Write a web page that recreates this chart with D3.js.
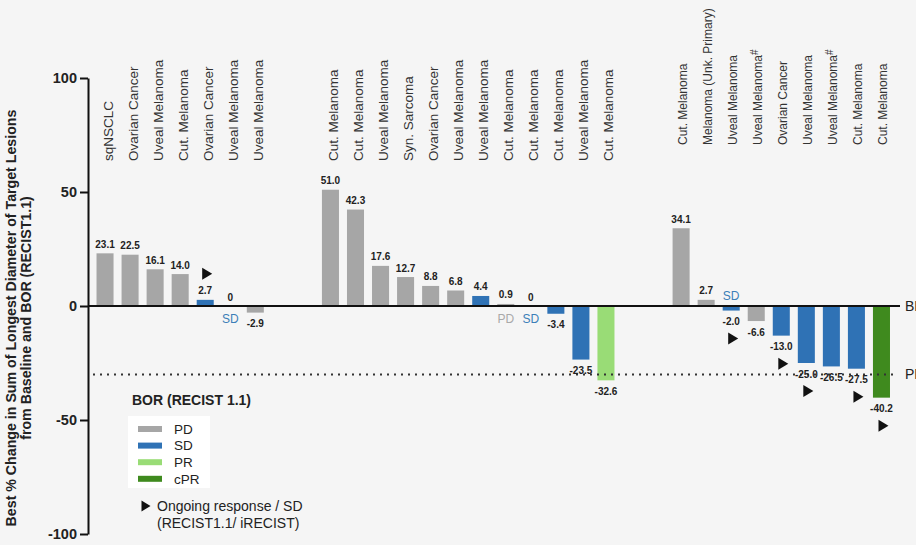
<!DOCTYPE html>
<html>
<head>
<meta charset="utf-8">
<script src="https://cdn.jsdelivr.net/npm/d3@7"></script>
<style>
  html, body { margin: 0; padding: 0; background: #f5f5f5; }
  svg { display: block; font-family: "Liberation Sans", Arial, sans-serif; }
</style>
</head>
<body>
<svg id="chart" width="916" height="545"></svg>
<script>
// Tumour type of each patient, in plotted order (three cohorts)
const tumorTypes = [
  "sqNSCLC", "Ovarian Cancer", "Uveal Melanoma", "Cut. Melanoma", "Ovarian Cancer", "Uveal Melanoma", "Uveal Melanoma",
  "Cut. Melanoma", "Cut. Melanoma", "Uveal Melanoma", "Syn. Sarcoma", "Ovarian Cancer", "Uveal Melanoma",
  "Uveal Melanoma", "Cut. Melanoma", "Cut. Melanoma", "Cut. Melanoma", "Uveal Melanoma", "Cut. Melanoma",
  "Cut. Melanoma", "Melanoma (Unk. Primary)", "Uveal Melanoma", "Uveal Melanoma", "Ovarian Cancer",
  "Uveal Melanoma", "Uveal Melanoma", "Cut. Melanoma", "Cut. Melanoma"
];
// Cohort each patient belongs to
const cohorts = [1,1,1,1,1,1,1, 2,2,2,2,2,2,2,2,2,2,2,2, 3,3,3,3,3,3,3,3,3];
// Best % change in sum of longest diameters of target lesions
const bestChange = [
  23.1, 22.5, 16.1, 14.0, 2.7, 0, -2.9,
  51.0, 42.3, 17.6, 12.7, 8.8, 6.8, 4.4, 0.9, 0, -3.4, -23.5, -32.6,
  34.1, 2.7, -2.0, -6.6, -13.0, -25.0, -26.5, -27.5, -40.2
];
// Best overall response (RECIST 1.1)
const bor = [
  "PD", "PD", "PD", "PD", "SD", "SD", "PD",
  "PD", "PD", "PD", "PD", "PD", "PD", "SD", "PD", "SD", "SD", "SD", "PR",
  "PD", "PD", "SD", "PD", "SD", "SD", "SD", "SD", "cPR"
];
// Patients flagged with "#"
const hashFlagged = [22, 25];
// Patients with ongoing response / SD (RECIST1.1 / iRECIST)
const ongoing = [4, 21, 23, 24, 26, 27];
// Patients whose response is spelled out next to a near-zero bar
const tagged = [5, 14, 15, 21];
const tagAbove = [21];

const borCategories = ["PD", "SD", "PR", "cPR"];
const borColors = ["#a6a6a6", "#2f72b5", "#99dc76", "#3f8a1e"];
const tagColors = { PD: "#a9a9a9", SD: "#3b7fb8" };

const yTicks = [-100, -50, 0, 50, 100];
const prThreshold = -30;

const svg = d3.select("#chart");
const W = 916, H = 545;
svg.append("rect").attr("width", W).attr("height", H).attr("fill", "#f5f5f5");

// Plain hyphen for negative numbers
const fmtValue = d => d === 0 ? "0" : d.toFixed(1);

// Two empty slots separate each cohort
const slotOf = i => i + 2 * (cohorts[i] - 1);
const nSlots = slotOf(bestChange.length - 1) + 1;

const x = d3.scaleBand()
  .domain(d3.range(nSlots))
  .range([88.5, 898])
  .paddingInner(0.32)
  .paddingOuter(0.32);

const y = d3.scaleLinear().domain([-100, 100]).range([534, 78]);
const color = d3.scaleOrdinal().domain(borCategories).range(borColors);

const cx = i => x(slotOf(i)) + x.bandwidth() / 2;

// Bars
svg.append("g").selectAll("rect")
  .data(bestChange)
  .join("rect")
  .attr("x", (d, i) => x(slotOf(i)))
  .attr("width", x.bandwidth())
  .attr("y", d => y(Math.max(0, d)))
  .attr("height", d => Math.abs(y(d) - y(0)))
  .attr("fill", (d, i) => color(bor[i]));

// Baseline and PR threshold
svg.append("line")
  .attr("x1", 88).attr("x2", 900)
  .attr("y1", y(0)).attr("y2", y(0))
  .attr("stroke", "#111").attr("stroke-width", 2);
svg.append("line")
  .attr("x1", 93).attr("x2", 898)
  .attr("y1", y(prThreshold)).attr("y2", y(prThreshold))
  .attr("stroke", "#333").attr("stroke-width", 2)
  .attr("stroke-dasharray", "2,5");
svg.append("text").attr("x", 905).attr("y", y(0)).attr("dy", "0.36em")
  .attr("font-size", 14).attr("fill", "#222").text("BL");
svg.append("text").attr("x", 905).attr("y", y(prThreshold)).attr("dy", "0.36em")
  .attr("font-size", 14).attr("fill", "#222").text("PR");

// Y axis
const yAxis = d3.axisLeft(y).tickValues(yTicks).tickFormat(d => String(d))
  .tickSize(8).tickSizeOuter(0).tickPadding(3);
const gy = svg.append("g").attr("transform", "translate(88,0)").call(yAxis);
gy.select(".domain").attr("stroke", "#111").attr("stroke-width", 2);
gy.selectAll(".tick line").attr("stroke", "#111").attr("stroke-width", 2);
gy.selectAll(".tick text")
  .attr("font-size", 14.5).attr("font-weight", "bold").attr("fill", "#222")
  .attr("font-family", "'Liberation Sans', Arial, sans-serif");

// Y axis title
const titleG = svg.append("g").attr("font-weight", "bold").attr("font-size", 14.2).attr("fill", "#222");
titleG.append("text")
  .attr("transform", "translate(16,318) rotate(-90)")
  .attr("text-anchor", "middle")
  .text("Best % Change in Sum of Longest Diameter of Target Lesions");
titleG.append("text")
  .attr("transform", "translate(31,318) rotate(-90)")
  .attr("text-anchor", "middle")
  .text("from Baseline and BOR (RECIST1.1)");

// Tumour-type labels above the bars
const catLabels = svg.append("g").attr("fill", "#333");
tumorTypes.forEach((name, i) => {
  const third = cohorts[i] === 3;
  const t = catLabels.append("text")
    .attr("transform", `translate(${cx(i) + (third ? 6 : 7.5)},${third ? 145 : 161}) rotate(-90)`)
    .attr("font-size", third ? 12 : 13.5)
    .text(name);
  if (hashFlagged.includes(i)) {
    t.append("tspan").attr("dy", "-0.45em").attr("font-size", 10).text("#");
  }
});

// Value labels
svg.append("g").selectAll("text")
  .data(bestChange)
  .join("text")
  .attr("x", (d, i) => cx(i))
  .attr("y", d => d >= 0 ? y(d) - 5.5 : y(d) + 14.5)
  .attr("text-anchor", "middle")
  .attr("font-size", 10).attr("font-weight", "bold").attr("fill", "#222")
  .text(fmtValue);

// Response tags beside near-zero bars
svg.append("g").selectAll("text")
  .data(tagged)
  .join("text")
  .attr("x", i => cx(i))
  .attr("y", i => tagAbove.includes(i) ? y(0) - 6 : y(0) + 17)
  .attr("text-anchor", "middle")
  .attr("font-size", 12)
  .attr("fill", i => tagColors[bor[i]])
  .text(i => bor[i]);

// Ongoing response markers
const tri = "M-5,-6L5,0L-5,6Z";
svg.append("g").selectAll("path")
  .data(ongoing)
  .join("path")
  .attr("d", tri)
  .attr("fill", "#111")
  .attr("transform", i => {
    const v = bestChange[i];
    const ty = v >= 0 ? y(v) - 26 : y(v) + 28;
    return `translate(${cx(i) + 2},${ty})`;
  });

// Legend
const lg = svg.append("g");
lg.append("text").attr("x", 132).attr("y", 405)
  .attr("font-size", 14).attr("font-weight", "bold").attr("fill", "#222")
  .text("BOR (RECIST 1.1)");
lg.append("rect").attr("x", 128).attr("y", 416).attr("width", 82).attr("height", 72).attr("fill", "#ffffff");
borCategories.forEach((c, k) => {
  const yy = 429 + k * 16.6;
  lg.append("rect").attr("x", 138).attr("y", yy - 3).attr("width", 24).attr("height", 6).attr("fill", color(c));
  lg.append("text").attr("x", 174).attr("y", yy).attr("dy", "0.36em")
    .attr("font-size", 13.5).attr("fill", "#222").text(c);
});
lg.append("path").attr("d", "M-4.5,-5.5L4.5,0L-4.5,5.5Z").attr("fill", "#111")
  .attr("transform", "translate(146,506)");
lg.append("text").attr("x", 157).attr("y", 506).attr("dy", "0.36em")
  .attr("font-size", 14).attr("fill", "#222").text("Ongoing response / SD");
lg.append("text").attr("x", 157).attr("y", 523).attr("dy", "0.36em")
  .attr("font-size", 14).attr("fill", "#222").text("(RECIST1.1/ iRECIST)");
</script>
</body>
</html>
